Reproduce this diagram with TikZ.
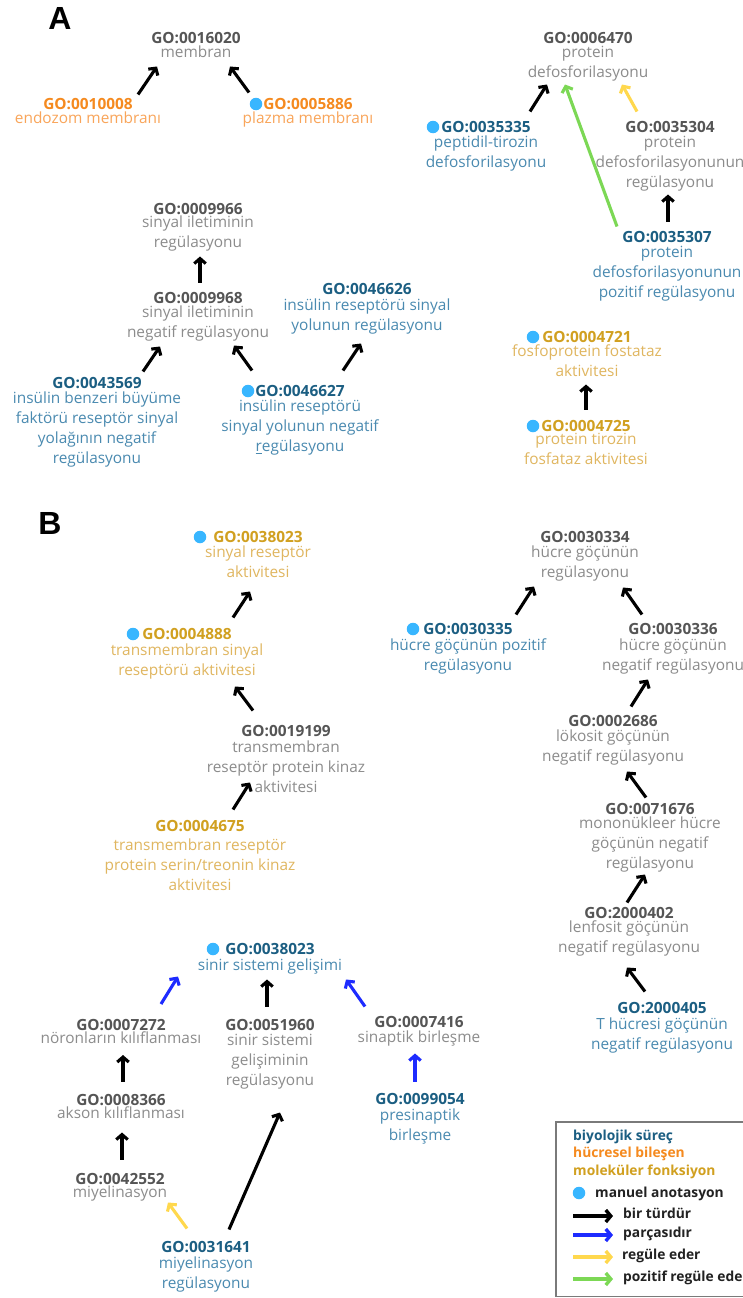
\documentclass[tikz,border=0pt]{standalone}
\usepackage{fontspec}
\setmainfont{Open Sans}
\newfontfamily\panelfont{Liberation Sans}
\usetikzlibrary{arrows.meta}

\definecolor{idgray}{HTML}{555555}
\definecolor{lbgray}{HTML}{8C8C8C}
\definecolor{bpid}{HTML}{1B5E82}
\definecolor{bplb}{HTML}{4A8AB0}
\definecolor{ccid}{HTML}{F58A1F}
\definecolor{cclb}{HTML}{F9A55A}
\definecolor{mfid}{HTML}{D1A020}
\definecolor{mflb}{HTML}{E0B660}
\definecolor{dotblue}{HTML}{38B6FF}
\definecolor{arrblue}{HTML}{1D2BFF}
\definecolor{arryel}{HTML}{FFD84D}
\definecolor{arrgrn}{HTML}{7CD855}
\definecolor{legtxt}{HTML}{222222}
\definecolor{legframe}{HTML}{7A7A7A}

% GO identifier, bold, in the colour chosen by the term style
\newcommand\gid[1]{\textcolor{\idcol}{\bfseries #1}}

\tikzset{
  go/.style={anchor=north, align=center, inner sep=0pt, font=\fontsize{15.4}{20}\selectfont},
  grayterm/.style={go, text=lbgray, execute at begin node={\def\idcol{idgray}}},
  bpterm/.style={go, text=bplb, execute at begin node={\def\idcol{bpid}}},
  ccterm/.style={go, text=cclb, execute at begin node={\def\idcol{ccid}}},
  mfterm/.style={go, text=mflb, execute at begin node={\def\idcol{mfid}}},
  mdot/.style={circle, fill=dotblue, draw=none, inner sep=0pt, minimum size=12.5pt},
  rel/.style={line width=3.1pt, -{Straight Barb[length=5pt,width=11.5pt]}},
  isa/.style={rel, draw=black},
  partof/.style={rel, draw=arrblue},
  regul/.style={rel, draw=arryel},
  posreg/.style={rel, draw=arrgrn},
  panel/.style={font=\panelfont\bfseries\fontsize{32}{32}\selectfont, inner sep=0pt},
  legtext/.style={anchor=base west, inner sep=0pt, text=legtxt, font=\bfseries\fontsize{13.8}{16}\selectfont},
  legarrow/.style={line width=3.4pt, -{Straight Barb[length=5pt,width=12pt]}},
}

\begin{document}
\begin{tikzpicture}[x=1pt,y=-1pt]
\useasboundingbox[fill=white] (0,0) rectangle (743,1298);

% ---------------- panel A ----------------
\node[panel] (labA) at (60,18) {A};

\node[grayterm] (n16020) at (196,32.5) {\gid{GO:0016020}\\[-6pt]membran};
\node[ccterm] (n10008) at (88,98.5) {\gid{GO:0010008}\\[-6pt]endozom membranı};
\node[ccterm] (n5886) at (308,98.5) {\gid{GO:0005886}\\[-6pt]plazma membranı};
\node[mdot] (d5886) at (256,104) {};

\node[grayterm] (n6470) at (588,32.5) {\gid{GO:0006470}\\[-6pt]protein\\defosforilasyonu};
\node[bpterm] (n35335) at (486,121.5) {\gid{GO:0035335}\\[-5pt]peptidil-tirozin\\defosforilasyonu};
\node[mdot] (d35335) at (433,127) {};
\node[grayterm] (n35304) at (670,121.5) {\gid{GO:0035304}\\[-5pt]protein\\defosforilasyonunun\\regülasyonu};
\node[bpterm] (n35307) at (667,231.5) {\gid{GO:0035307}\\[-5pt]protein\\defosforilasyonunun\\pozitif regülasyonu};

\node[grayterm] (n9966) at (198,203.5) {\gid{GO:0009966}\\[-7pt]sinyal iletiminin\\regülasyonu};
\node[grayterm] (n9968) at (198,292.5) {\gid{GO:0009968}\\[-6pt]sinyal iletiminin\\negatif regülasyonu};
\node[bpterm] (n46626) at (367,283.5) {\gid{GO:0046626}\\[-4pt]insülin reseptörü sinyal\\yolunun regülasyonu};
\node[bpterm] (n43569) at (97,377.5) {\gid{GO:0043569}\\[-5pt]insülin benzeri büyüme\\faktörü reseptör sinyal\\yolağının negatif\\regülasyonu};
\node[bpterm] (n46627) at (300,385.5) {\gid{GO:0046627}\\[-5pt]insülin reseptörü\\sinyal yolunun negatif\\\underline{r}egülasyonu};
\node[mdot] (d46627) at (248,391) {};

\node[mfterm] (n4721) at (587,331.5) {\gid{GO:0004721}\\[-6pt]fosfoprotein fostataz\\aktivitesi};
\node[mdot] (d4721) at (533,337) {};
\node[mfterm] (n4725) at (586,420.5) {\gid{GO:0004725}\\[-7pt]protein tirozin\\fosfataz aktivitesi};
\node[mdot] (d4725) at (533,426) {};

\draw[isa] ([shift={(50,-4)}]n10008.north) -- ([shift={(-39,34)}]n16020.north);
\draw[isa] ([shift={(-59,-6)}]n5886.north) -- ([shift={(34,34)}]n16020.north);
\draw[isa] ([shift={(44,-10)}]n35335.north) -- ([shift={(-41,52)}]n6470.north);
\draw[regul] ([shift={(-33,-10)}]n35304.north) -- ([shift={(34,52)}]n6470.north);
\draw[posreg] ([shift={(-50,-5)}]n35307.north) -- ([shift={(-23,52)}]n6470.north);
\draw[isa] ([shift={(1,-10)}]n35307.north) -- ([shift={(-2,73)}]n35304.north);
\draw[isa] ([shift={(2,-10)}]n9968.north) -- ([shift={(2,53)}]n9966.north);
\draw[isa] ([shift={(46,-6)}]n43569.north) -- ([shift={(-38,54)}]n9968.north);
\draw[isa] ([shift={(-48,-15)}]n46627.north) -- ([shift={(36,53)}]n9968.north);
\draw[isa] ([shift={(43,-15)}]n46627.north) -- ([shift={(-6,60)}]n46626.north);
\draw[isa] ([shift={(0,-11)}]n4725.north) -- ([shift={(-1,53)}]n4721.north);

% ---------------- panel B ----------------
\node[panel] (labB) at (50,523) {B};

\node[mfterm] (n38023m) at (258,531.5) {\gid{GO:0038023}\\[-5pt]sinyal reseptör\\aktivitesi};
\node[mdot] (d38023m) at (200,537) {};
\node[mfterm] (n4888) at (187,628.5) {\gid{GO:0004888}\\[-4pt]transmembran sinyal\\reseptörü aktivitesi};
\node[mdot] (d4888) at (133,634) {};
\node[grayterm] (n19199) at (286,725.5) {\gid{GO:0019199}\\[-4pt]transmembran\\reseptör protein kinaz\\aktivitesi};
\node[mfterm] (n4675) at (200,820.5) {\gid{GO:0004675}\\[-1pt]transmembran reseptör\\protein serin/treonin kinaz\\aktivitesi};

\node[grayterm] (n30334) at (585,531.5) {\gid{GO:0030334}\\[-5pt]hücre göçünün\\regülasyonu};
\node[bpterm] (n30335) at (468,623.5) {\gid{GO:0030335}\\[-4pt]hücre göçünün pozitif\\regülasyonu};
\node[mdot] (d30335) at (413,629) {};
\node[grayterm] (n30336) at (673,623.5) {\gid{GO:0030336}\\[-4pt]hücre göçünün\\negatif regülasyonu};
\node[grayterm] (n2686) at (613,715.5) {\gid{GO:0002686}\\[-5pt]lökosit göçünün\\negatif regülasyonu};
\node[grayterm] (n71676) at (650,803.5) {\gid{GO:0071676}\\[-6pt]mononükleer hücre\\göçünün negatif\\regülasyonu};
\node[grayterm] (n2000402) at (629,907.5) {\gid{GO:2000402}\\[-6pt]lenfosit göçünün\\negatif regülasyonu};
\node[bpterm] (n2000405) at (662,1002.5) {\gid{GO:2000405}\\[-4pt]T hücresi göçünün\\negatif regülasyonu};

\node[bpterm] (n38023b) at (270,943.5) {\gid{GO:0038023}\\[-4pt]sinir sistemi gelişimi};
\node[mdot] (d38023b) at (213,949) {};
\node[grayterm] (n7272) at (121,1019) {\gid{GO:0007272}\\[-7pt]nöronların kılıflanması};
\node[grayterm] (n51960) at (270,1019.5) {\gid{GO:0051960}\\[-5pt]sinir sistemi\\gelişiminin\\regülasyonu};
\node[grayterm] (n7416) at (419,1016.5) {\gid{GO:0007416}\\[-5pt]sinaptik birleşme};
\node[grayterm] (n8366) at (121,1094.5) {\gid{GO:0008366}\\[-7pt]akson kılıflanması};
\node[grayterm] (n42552) at (120,1173.5) {\gid{GO:0042552}\\[-7pt]miyelinasyon};
\node[bpterm] (n99054) at (420,1093.5) {\gid{GO:0099054}\\[-4pt]presinaptik\\birleşme};
\node[bpterm] (n31641) at (206,1241.5) {\gid{GO:0031641}\\[-4pt]miyelinasyon\\regülasyonu};

\draw[isa] ([shift={(46,-11)}]n4888.north) -- ([shift={(-8,60)}]n38023m.north);
\draw[isa] ([shift={(-33,-15)}]n19199.north) -- ([shift={(48,58)}]n4888.north);
\draw[isa] ([shift={(33,-11)}]n4675.north) -- ([shift={(-36,57)}]n19199.north);

\draw[isa] ([shift={(48,-9)}]n30335.north) -- ([shift={(-51,55)}]n30334.north);
\draw[isa] ([shift={(-31,-9)}]n30336.north) -- ([shift={(38,56)}]n30334.north);
\draw[isa] ([shift={(18,-9)}]n2686.north) -- ([shift={(-25,56)}]n30336.north);
\draw[isa] ([shift={(-4,-6)}]n71676.north) -- ([shift={(14,56)}]n2686.north);
\draw[isa] ([shift={(-2,-5)}]n2000402.north) -- ([shift={(-5,71)}]n71676.north);
\draw[isa] ([shift={(-17,-11)}]n2000405.north) -- ([shift={(-2,60)}]n2000402.north);

\draw[partof] ([shift={(40,-15)}]n7272.north) -- ([shift={(-92,33)}]n38023b.north);
\draw[isa] ([shift={(-3,-13)}]n51960.north) -- ([shift={(-3,36)}]n38023b.north);
\draw[partof] ([shift={(-54,-10)}]n7416.north) -- ([shift={(76,36)}]n38023b.north);
\draw[isa] ([shift={(2,-13)}]n8366.north) -- ([shift={(2,36)}]n7272.north);
\draw[isa] ([shift={(2,-14)}]n42552.north) -- ([shift={(1,38)}]n8366.north);
\draw[partof] ([shift={(-5,-12)}]n99054.north) -- ([shift={(-4,37)}]n7416.north);
\draw[regul] ([shift={(-19,-13)}]n31641.north) -- ([shift={(48,29)}]n42552.north);
\draw[isa] ([shift={(23,-12)}]n31641.north) -- ([shift={(10,93)}]n51960.north);

% ---------------- legend ----------------
\draw[legframe, line width=1.2pt] (760,1122) -- (556,1122) -- (556,1296.5) -- (760,1296.5);
\node[legtext, text=bpid] (lbp) at (573,1140) {biyolojik süreç};
\node[legtext, text=ccid] (lcc) at (573,1157) {hücresel bileşen};
\node[legtext, text=mfid] (lmf) at (573,1175) {moleküler fonksiyon};
\node[mdot] (ldot) at (579,1193) {};
\node[legtext] (lman) at (595,1197) {manuel anotasyon};

\coordinate (la1) at (573,1216); \coordinate (lb1) at (613,1216);
\coordinate (la2) at (573,1235); \coordinate (lb2) at (613,1235);
\coordinate (la3) at (573,1257); \coordinate (lb3) at (613,1257);
\coordinate (la4) at (573,1279); \coordinate (lb4) at (613,1279);
\draw[legarrow, draw=black] (la1) -- (lb1);
\draw[legarrow, draw=arrblue] (la2) -- (lb2);
\draw[legarrow, draw=arryel] (la3) -- (lb3);
\draw[legarrow, draw=arrgrn] (la4) -- (lb4);
\node[legtext] (lisa) at (623,1218) {bir türdür};
\node[legtext] (lpart) at (623,1237) {parçasıdır};
\node[legtext] (lreg) at (622,1259) {regüle eder};
\node[legtext] (lpos) at (623,1281) {pozitif regüle eder};
\end{tikzpicture}
\end{document}
